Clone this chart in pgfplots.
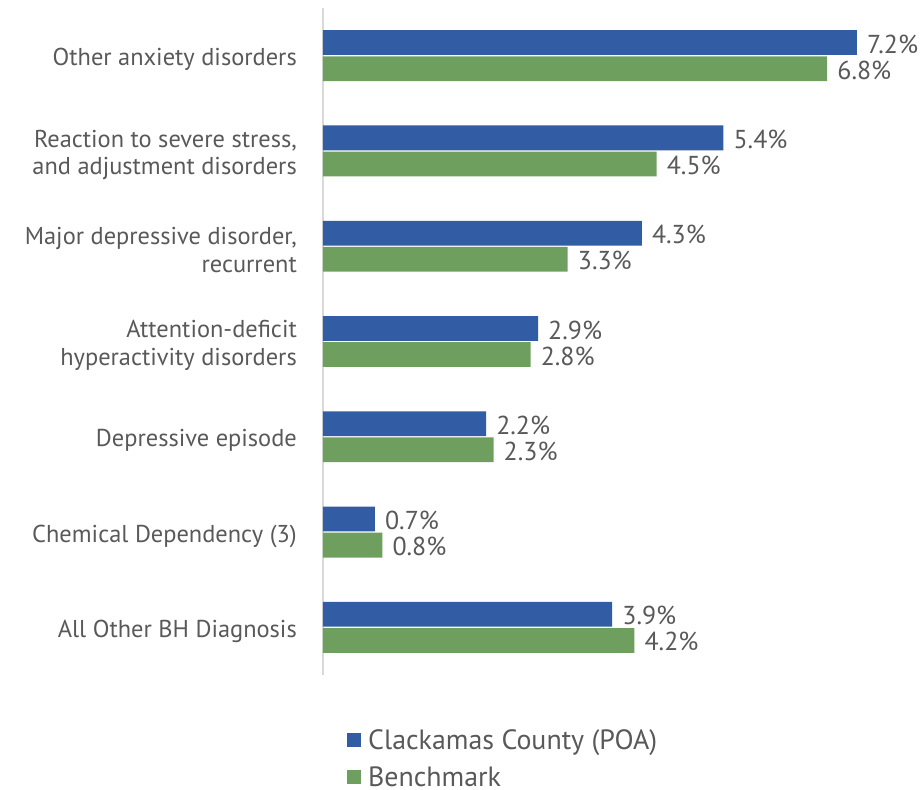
\documentclass[border=0pt]{standalone}
\usepackage{fontspec}
\setmainfont{PT Sans}
\usepackage{pgfplots}
\pgfplotsset{compat=1.18}
\definecolor{cblue}{HTML}{325CA3}
\definecolor{cgreen}{HTML}{6E9F5E}
\definecolor{tgray}{HTML}{595959}
\definecolor{agray}{HTML}{D9D9D9}
\begin{document}
\begin{tikzpicture}
\begin{axis}[
  scale only axis, width=593.2bp, height=667bp,
  xmin=0, xmax=8, ymin=-0.5, ymax=6.5,
  xbar, bar width=0.26,
  clip=false,
  axis x line=none,
  axis y line*=left,
  y axis line style={draw=agray, line width=1.5bp},
  ytick={0,...,6},
  yticklabels={All Other BH Diagnosis, Chemical Dependency (3), Depressive episode, Attention-deficit\\hyperactivity disorders, {Major depressive disorder,\\recurrent}, {Reaction to severe stress,\\and adjustment disorders}, Other anxiety disorders},
  yticklabel style={align=right, font=\fontsize{24.5}{28}\selectfont, text=tgray, inner sep=0pt, xshift=-26bp, yshift=-4bp},
  major tick length=0pt, tick style={draw=none},
  /pgf/number format/assume math mode=true,
  nodes near coords={\pgfmathprintnumber[fixed, fixed zerofill, precision=1]{\pgfplotspointmeta}\%},
  nodes near coords style={font=\fontsize{26}{30}\selectfont, text=tgray, anchor=west, inner sep=0pt, xshift=10bp, yshift=-1.5bp},
  legend style={at={(0,0)}, anchor=north west, xshift=24bp, yshift=-52bp, draw=none, fill=none,
    font=\fontsize{28}{32}\selectfont, text=tgray, row sep=12bp, inner sep=0pt,
    /tikz/every odd column/.append style={column sep=5bp}},
  legend cell align=left,
  legend image code/.code={\path[#1] (0bp,-7bp) rectangle (14bp,7bp);},
]
\addplot[fill=cblue, draw=none, bar shift=0.137] coordinates {(3.9,0) (0.7,1) (2.2,2) (2.9,3) (4.3,4) (5.4,5) (7.2,6)};
\addlegendentry{Clackamas County (POA)}
\addplot[fill=cgreen, draw=none, bar shift=-0.137] coordinates {(4.2,0) (0.8,1) (2.3,2) (2.8,3) (3.3,4) (4.5,5) (6.8,6)};
\addlegendentry{Benchmark}
\end{axis}
\pgfresetboundingbox
\path (-323bp,-115bp) rectangle (600bp,675bp);
\end{tikzpicture}
\end{document}
